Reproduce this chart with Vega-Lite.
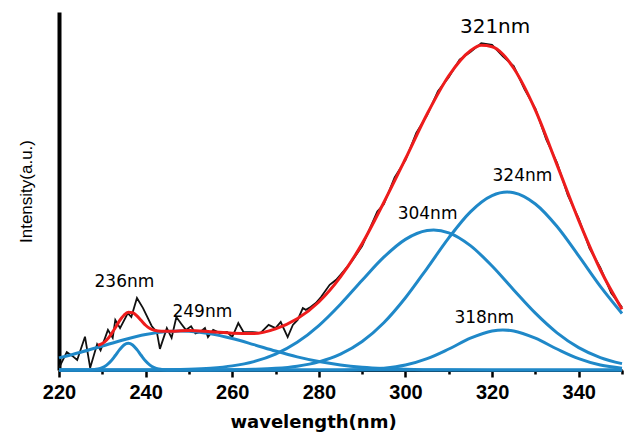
{
  "$schema": "https://vega.github.io/schema/vega-lite/v6.json",
  "width": 563,
  "height": 358,
  "autosize": {"type": "none"},
  "padding": {"left": 59, "top": 12, "right": 2, "bottom": 62},
  "background": "white",
  "config": {
    "view": {"stroke": null},
    "axis": {"grid": false}
  },
  "datasets": {
    "blue": [
      {"c":"g1","x":220,"y":0},{"c":"g1","x":226,"y":0},{"c":"g1","x":228,"y":0.09},{"c":"g1","x":229,"y":0.26},{"c":"g1","x":230,"y":0.64},{"c":"g1","x":231,"y":1.35},{"c":"g1","x":232,"y":2.5},{"c":"g1","x":233,"y":4.05},{"c":"g1","x":234,"y":5.7},{"c":"g1","x":235,"y":7.0},{"c":"g1","x":236,"y":7.5},{"c":"g1","x":237,"y":7.0},{"c":"g1","x":238,"y":5.7},{"c":"g1","x":239,"y":4.05},{"c":"g1","x":240,"y":2.5},{"c":"g1","x":241,"y":1.35},{"c":"g1","x":242,"y":0.64},{"c":"g1","x":243,"y":0.26},{"c":"g1","x":244,"y":0.09},{"c":"g1","x":246,"y":0},{"c":"g1","x":260,"y":0},{"c":"g1","x":350,"y":0},
      {"c":"g2","x":220,"y":3.38},{"c":"g2","x":225,"y":4.95},{"c":"g2","x":230,"y":6.72},{"c":"g2","x":235,"y":8.47},{"c":"g2","x":240,"y":9.91},{"c":"g2","x":245,"y":10.76},{"c":"g2","x":248,"y":10.9},{"c":"g2","x":250,"y":10.83},{"c":"g2","x":255,"y":10.13},{"c":"g2","x":260,"y":8.79},{"c":"g2","x":265,"y":7.08},{"c":"g2","x":270,"y":5.29},{"c":"g2","x":275,"y":3.67},{"c":"g2","x":280,"y":2.37},{"c":"g2","x":285,"y":1.41},{"c":"g2","x":290,"y":0.78},{"c":"g2","x":295,"y":0.4},{"c":"g2","x":300,"y":0.19},{"c":"g2","x":305,"y":0.09},{"c":"g2","x":310,"y":0.04},{"c":"g2","x":320,"y":0},{"c":"g2","x":350,"y":0},
      {"c":"g3","x":220,"y":0},{"c":"g3","x":235,"y":0.01},{"c":"g3","x":240,"y":0.03},{"c":"g3","x":245,"y":0.08},{"c":"g3","x":250,"y":0.21},{"c":"g3","x":255,"y":0.52},{"c":"g3","x":260,"y":1.15},{"c":"g3","x":265,"y":2.35},{"c":"g3","x":270,"y":4.44},{"c":"g3","x":275,"y":7.74},{"c":"g3","x":280,"y":12.42},{"c":"g3","x":285,"y":18.38},{"c":"g3","x":290,"y":25.07},{"c":"g3","x":295,"y":31.51},{"c":"g3","x":300,"y":36.49},{"c":"g3","x":305,"y":38.96},{"c":"g3","x":306.5,"y":39.1},{"c":"g3","x":310,"y":38.32},{"c":"g3","x":315,"y":34.75},{"c":"g3","x":320,"y":29.04},{"c":"g3","x":325,"y":22.36},{"c":"g3","x":330,"y":15.87},{"c":"g3","x":335,"y":10.38},{"c":"g3","x":340,"y":6.26},{"c":"g3","x":345,"y":3.48},{"c":"g3","x":350,"y":1.78},
      {"c":"g4","x":220,"y":0},{"c":"g4","x":250,"y":0.01},{"c":"g4","x":255,"y":0.02},{"c":"g4","x":260,"y":0.07},{"c":"g4","x":265,"y":0.19},{"c":"g4","x":270,"y":0.46},{"c":"g4","x":275,"y":1.07},{"c":"g4","x":280,"y":2.27},{"c":"g4","x":285,"y":4.42},{"c":"g4","x":290,"y":7.95},{"c":"g4","x":295,"y":13.2},{"c":"g4","x":300,"y":20.17},{"c":"g4","x":305,"y":28.42},{"c":"g4","x":310,"y":36.91},{"c":"g4","x":315,"y":44.18},{"c":"g4","x":320,"y":48.71},{"c":"g4","x":323.5,"y":49.7},{"c":"g4","x":325,"y":49.52},{"c":"g4","x":330,"y":46.37},{"c":"g4","x":335,"y":40.06},{"c":"g4","x":340,"y":31.86},{"c":"g4","x":345,"y":23.36},{"c":"g4","x":350,"y":15.8},
      {"c":"g5","x":220,"y":0},{"c":"g5","x":280,"y":0},{"c":"g5","x":285,"y":0.03},{"c":"g5","x":290,"y":0.14},{"c":"g5","x":295,"y":0.49},{"c":"g5","x":300,"y":1.38},{"c":"g5","x":305,"y":3.16},{"c":"g5","x":310,"y":5.87},{"c":"g5","x":315,"y":8.88},{"c":"g5","x":320,"y":10.91},{"c":"g5","x":322.5,"y":11.2},{"c":"g5","x":325,"y":10.91},{"c":"g5","x":330,"y":8.88},{"c":"g5","x":335,"y":5.87},{"c":"g5","x":340,"y":3.16},{"c":"g5","x":345,"y":1.38},{"c":"g5","x":350,"y":0.49}
    ],
    "red": [
      {"x":229,"y":6.9},{"x":230,"y":7.4},{"x":231,"y":8.4},{"x":232,"y":9.9},{"x":233,"y":11.8},{"x":234,"y":13.8},{"x":235,"y":15.3},{"x":236,"y":16.1},{"x":237,"y":16.0},{"x":238,"y":15.1},{"x":239,"y":13.8},{"x":240,"y":12.5},{"x":241,"y":11.6},{"x":242,"y":11.1},{"x":243,"y":10.9},{"x":244,"y":10.8},{"x":245,"y":10.8},{"x":250,"y":11.0},{"x":255,"y":10.7},{"x":260,"y":10.3},{"x":265,"y":10.2},{"x":270,"y":11.5},{"x":275,"y":14.3},{"x":280,"y":19.0},{"x":285,"y":26.0},{"x":290,"y":35.3},{"x":295,"y":46.8},{"x":300,"y":59.0},{"x":305,"y":71.5},{"x":310,"y":82.2},{"x":315,"y":89.2},{"x":317.5,"y":90.7},{"x":320,"y":90.3},{"x":322.5,"y":88.2},{"x":325,"y":84.3},{"x":330,"y":72.6},{"x":335,"y":57.3},{"x":340,"y":41.8},{"x":345,"y":28.0},{"x":350,"y":17.0}
    ],
    "black": [
      {"x":220,"y":0.6},{"x":221.8,"y":5.0},{"x":223,"y":4.0},{"x":224.2,"y":2.8},{"x":226,"y":9.3},{"x":227.2,"y":0.6},{"x":228.8,"y":7.2},{"x":229.6,"y":5.5},{"x":231.3,"y":11.2},{"x":232.4,"y":9.0},{"x":233,"y":14.0},{"x":234.1,"y":11.7},{"x":235.9,"y":15.9},{"x":236.7,"y":14.8},{"x":238,"y":20.1},{"x":239.4,"y":17.3},{"x":241.4,"y":12.3},{"x":242.6,"y":10.6},{"x":243.3,"y":5.9},{"x":244.9,"y":11.7},{"x":246,"y":9.0},{"x":247.1,"y":14.8},{"x":248.3,"y":12.8},{"x":249.3,"y":11.2},{"x":250.5,"y":12.2},{"x":251.5,"y":10.2},{"x":252.6,"y":10.6},{"x":253.7,"y":11.7},{"x":254.4,"y":9.2},{"x":255.6,"y":11.2},{"x":257.2,"y":10.3},{"x":258.8,"y":10.6},{"x":260,"y":9.2},{"x":261.4,"y":13.1},{"x":262.6,"y":10.6},{"x":264.7,"y":10.6},{"x":266.5,"y":10.3},{"x":268.4,"y":12.6},{"x":270,"y":11.7},{"x":271.2,"y":13.4},{"x":272.8,"y":9.2},{"x":274,"y":12.6},{"x":275.1,"y":14.0},{"x":276.3,"y":17.3},{"x":277,"y":16.8},{"x":278.1,"y":17.6},{"x":279.3,"y":18.7},{"x":280.5,"y":20.4},
      {"x":282.5,"y":23.8},{"x":284,"y":25.2},{"x":285,"y":26.6},{"x":287.5,"y":30.2},{"x":290,"y":34.6},{"x":292.5,"y":41.5},{"x":293.5,"y":44.3},{"x":295,"y":46.3},{"x":297.5,"y":53.8},{"x":300,"y":58.6},{"x":302.5,"y":66.2},{"x":305,"y":71.2},{"x":307.5,"y":77.9},{"x":310,"y":81.8},{"x":312.5,"y":86.7},{"x":315,"y":88.8},{"x":317.5,"y":91.3},{"x":320,"y":90.8},{"x":322.5,"y":87.6},{"x":325,"y":84.9},{"x":327.5,"y":78.4},{"x":330,"y":73.0},{"x":332.5,"y":64.4},{"x":335,"y":57.9},{"x":337.5,"y":48.8},{"x":340,"y":42.3},{"x":342.5,"y":34.0},{"x":345,"y":28.6},{"x":347.5,"y":21.5},{"x":350,"y":17.5}
    ],
    "labels": [
      {"t":"236nm","x":235.1,"y":24.6},{"t":"249nm","x":253.1,"y":16.1},{"t":"321nm","x":320.7,"y":95.8},{"t":"324nm","x":327.0,"y":54.2},{"t":"304nm","x":305.1,"y":43.6},{"t":"318nm","x":318.2,"y":14.5}
    ]
  },
  "layer": [
    {
      "data": {"name": "black"},
      "mark": {"type": "line", "color": "#111111", "strokeWidth": 1.8, "interpolate": "linear"},
      "encoding": {
        "x": {"field": "x", "type": "quantitative", "scale": {"domain": [220, 350], "nice": false, "zero": false},
          "axis": {"orient": "bottom", "values": [220, 240, 260, 280, 300, 320, 340], "tickSize": 7, "tickWidth": 2.5, "tickColor": "black",
            "domainWidth": 3, "domainColor": "black", "labelFont": "Liberation Sans", "labelFontWeight": "bold", "labelFontSize": 20,
            "labelColor": "black", "labelPadding": 5, "labelFlush": false, "labelOverlap": false,
            "title": "wavelength(nm)", "titleFont": "DejaVu Sans", "titleFontSize": 18, "titleFontWeight": "bold",
            "titleColor": "black", "titlePadding": 11, "titleX": 254, "titleAlign": "center"}},
        "y": {"field": "y", "type": "quantitative", "scale": {"domain": [0, 100], "nice": false},
          "axis": {"title": "Intensity(a.u.)", "domain": true, "domainWidth": 4, "domainColor": "black", "ticks": false, "labels": false,
            "titleFont": "Liberation Sans", "titleFontSize": 17, "titleFontWeight": "normal", "titleColor": "black", "titlePadding": 24}}
      }
    },
    {
      "data": {"name": "blue"},
      "mark": {"type": "line", "color": "#1f88c8", "strokeWidth": 3, "interpolate": "monotone"},
      "encoding": {
        "x": {"field": "x", "type": "quantitative",
          "axis": {"orient": "bottom", "values": [230, 250, 270, 290, 310, 330, 350], "labels": false, "domain": false, "tickSize": 4, "tickWidth": 2.5, "tickColor": "black", "title": null}},
        "y": {"field": "y", "type": "quantitative",
          "axis": {"title": "Intensity(a.u.)", "domain": true, "domainWidth": 4, "domainColor": "black", "ticks": false, "labels": false,
            "titleFont": "Liberation Sans", "titleFontSize": 17, "titleFontWeight": "normal", "titleColor": "black", "titlePadding": 24}},
        "detail": {"field": "c"}
      }
    },
    {
      "data": {"name": "red"},
      "mark": {"type": "line", "color": "#ee1c1c", "strokeWidth": 3, "interpolate": "monotone"},
      "encoding": {
        "x": {"field": "x", "type": "quantitative", "axis": null},
        "y": {"field": "y", "type": "quantitative",
          "axis": {"title": "Intensity(a.u.)", "domain": true, "domainWidth": 4, "domainColor": "black", "ticks": false, "labels": false,
            "titleFont": "Liberation Sans", "titleFontSize": 17, "titleFontWeight": "normal", "titleColor": "black", "titlePadding": 24}}
      }
    },
    {
      "data": {"name": "labels"},
      "mark": {"type": "text", "font": "DejaVu Sans", "color": "black", "align": "center", "baseline": "middle"},
      "encoding": {
        "x": {"field": "x", "type": "quantitative", "axis": null},
        "y": {"field": "y", "type": "quantitative",
          "axis": {"title": "Intensity(a.u.)", "domain": true, "domainWidth": 4, "domainColor": "black", "ticks": false, "labels": false,
            "titleFont": "Liberation Sans", "titleFontSize": 17, "titleFontWeight": "normal", "titleColor": "black", "titlePadding": 24}},
        "text": {"field": "t"},
        "size": {"condition": {"test": "datum.t === '321nm'", "value": 20}, "value": 17}
      }
    }
  ],
  "resolve": {"axis": {"x": "independent"}}
}
